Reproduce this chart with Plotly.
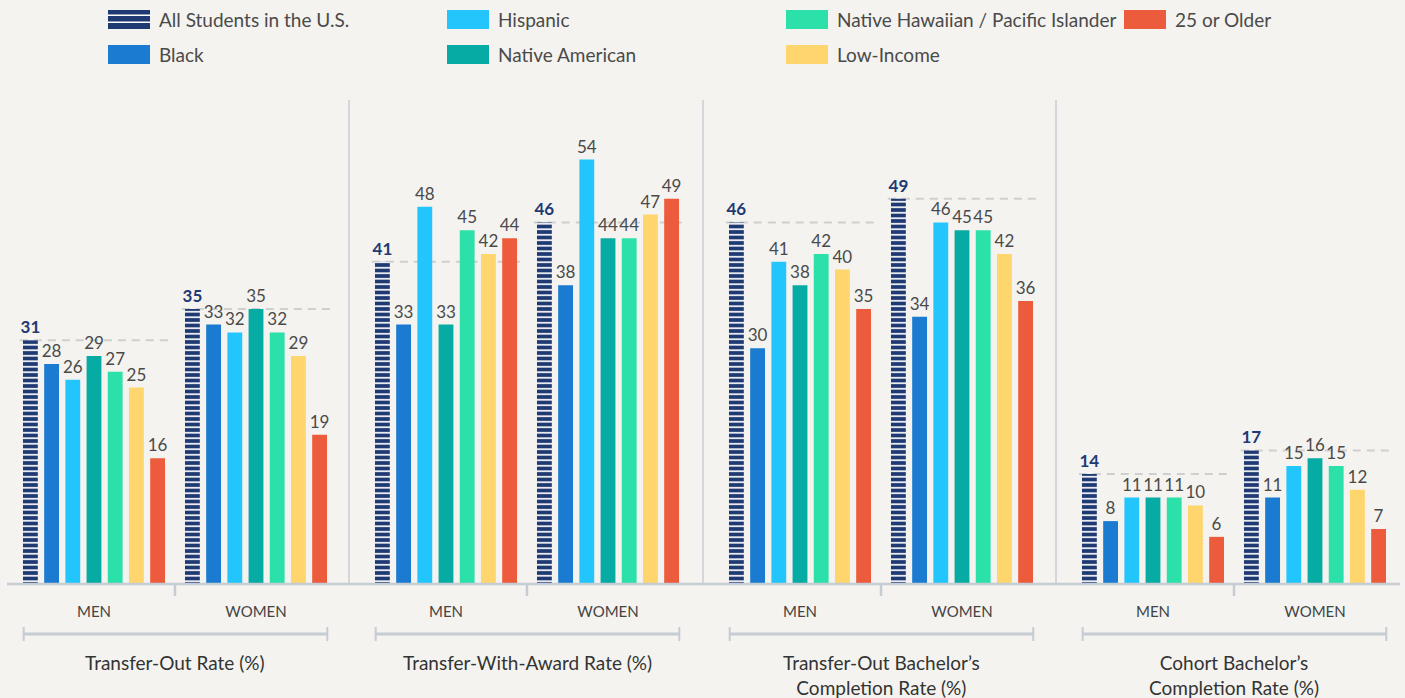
import plotly.graph_objects as go
from plotly.subplots import make_subplots

# data
groups = ["MEN", "WOMEN"]
series = ["All Students in the U.S.", "Black", "Hispanic", "Native American",
          "Native Hawaiian / Pacific Islander", "Low-Income", "25 or Older"]
colors = ["#1f3a73", "#1a7bd1", "#22c5fc", "#06aba4", "#2be1a9", "#ffd66e", "#ec5b3b"]

transfer_out_men = [31, 28, 26, 29, 27, 25, 16]
transfer_out_women = [35, 33, 32, 35, 32, 29, 19]
with_award_men = [41, 33, 48, 33, 45, 42, 44]
with_award_women = [46, 38, 54, 44, 44, 47, 49]
transfer_bach_men = [46, 30, 41, 38, 42, 40, 35]
transfer_bach_women = [49, 34, 46, 45, 45, 42, 36]
cohort_bach_men = [14, 8, 11, 11, 11, 10, 6]
cohort_bach_women = [17, 11, 15, 16, 15, 12, 7]

panel_titles = ["Transfer-Out Rate (%)", "Transfer-With-Award Rate (%)",
                "Transfer-Out Bachelor’s<br>Completion Rate (%)",
                "Cohort Bachelor’s<br>Completion Rate (%)"]
panels = [(transfer_out_men, transfer_out_women),
          (with_award_men, with_award_women),
          (transfer_bach_men, transfer_bach_women),
          (cohort_bach_men, cohort_bach_women)]

BG = "#f4f3ef"
LINE = "#c5ccd3"
TEXT = "#4a4a4a"
FONT = "Lato"

W, H = 1405, 698
TOP, BOTTOM = 100, 584
BARGAP = 0.084


def px_x(p):
    return p / W


def px_y(p):
    return (BOTTOM - p) / (BOTTOM - TOP)


fig = make_subplots(rows=1, cols=4)

for c, (men, women) in enumerate(panels):
    for s in range(len(series)):
        first = s == 0
        marker = dict(color=colors[s], line=dict(width=0))
        if first:
            marker["pattern"] = dict(shape="-", bgcolor=colors[0], fgcolor="#ffffff",
                                     size=5.5, solidity=0.3, fgopacity=1)
        fig.add_trace(go.Bar(
            x=groups, y=[men[s], women[s]], name=series[s],
            marker=marker, showlegend=False,
            text=[men[s], women[s]], textposition="outside",
            constraintext="none", cliponaxis=False,
            textfont=dict(family=FONT, size=17,
                          color=colors[0] if first else TEXT,
                          weight="bold" if first else "normal"),
            hoverinfo="skip",
        ), row=1, col=c + 1)

# panel layout (pixels)
panel_starts = [13, 365, 719, 1072]
panel_width = 324
shapes = []
annotations = []
for c, (men, women) in enumerate(panels):
    xa = "xaxis" if c == 0 else f"xaxis{c + 1}"
    ya = "yaxis" if c == 0 else f"yaxis{c + 1}"
    xref = "x" if c == 0 else f"x{c + 1}"
    yref = "y" if c == 0 else f"y{c + 1}"
    x0 = panel_starts[c]
    fig.layout[xa].update(domain=[px_x(x0), px_x(x0 + panel_width)], range=[-0.5, 1.5],
                          showgrid=False, zeroline=False, showline=False, ticks="",
                          tickfont=dict(family=FONT, size=15, color="#444444"),
                          ticklabelstandoff=17)
    fig.layout[ya].update(range=[0, (BOTTOM - TOP) / 7.86], visible=False)

    # dashed reference lines at the "All Students" value
    hw = 0.5 * (1 - BARGAP)
    for g, vals in enumerate([men, women]):
        shapes.append(dict(type="line", xref=xref, yref=yref, x0=g - hw, x1=g + hw,
                           y0=vals[0], y1=vals[0], layer="below",
                           line=dict(color="#cfcfcf", width=2, dash="8px,6px")))
    # middle tick
    shapes.append(dict(type="line", xref=xref + " domain", yref="paper", x0=0.5, x1=0.5,
                       y0=px_y(BOTTOM), y1=px_y(BOTTOM + 12), line=dict(color=LINE, width=2.5)))
    # bracket
    by = px_y(634)
    shapes.append(dict(type="line", xref=xref + " domain", yref="paper", x0=0.033, x1=0.97,
                       y0=by, y1=by, line=dict(color=LINE, width=3)))
    for bx in (0.033, 0.97):
        shapes.append(dict(type="line", xref=xref + " domain", yref="paper", x0=bx, x1=bx,
                           y0=px_y(627), y1=px_y(641), line=dict(color=LINE, width=2)))
    annotations.append(dict(xref=xref + " domain", yref="paper", x=0.5, y=px_y(649),
                            xanchor="center", yanchor="top", showarrow=False,
                            text=panel_titles[c],
                            font=dict(family=FONT, size=19, color="#333333")))

# separators and baseline
for sx in (349, 703, 1056):
    shapes.append(dict(type="line", xref="paper", yref="paper", x0=px_x(sx), x1=px_x(sx),
                       y0=0, y1=1, line=dict(color="#c9ced3", width=1.5)))
shapes.append(dict(type="line", xref="paper", yref="paper", x0=px_x(7), x1=px_x(1400),
                   y0=0, y1=0, line=dict(color=LINE, width=2.5)))

# legend (manual, column-major with two rows)
legend_cols = [108, 447, 786, 1124]
legend_rows = [10, 45]
for i, name in enumerate(series):
    lx = legend_cols[i // 2]
    ly = legend_rows[i % 2]
    shapes.append(dict(type="rect", xref="paper", yref="paper", x0=px_x(lx), x1=px_x(lx + 42),
                       y0=px_y(ly), y1=px_y(ly + 19), fillcolor=colors[i], line=dict(width=0)))
    if i == 0:
        for wy in (ly + 4.5, ly + 11.5):
            shapes.append(dict(type="rect", xref="paper", yref="paper", x0=px_x(lx),
                               x1=px_x(lx + 42), y0=px_y(wy), y1=px_y(wy + 1.5),
                               fillcolor="#ffffff", line=dict(width=0)))
    annotations.append(dict(xref="paper", yref="paper", x=px_x(lx + 49), y=px_y(ly + 9.5),
                            xanchor="left", yanchor="middle", showarrow=False, text=name,
                            font=dict(family=FONT, size=19, color=TEXT)))

fig.update_layout(
    width=W, height=H,
    margin=dict(l=0, r=0, t=TOP, b=H - BOTTOM),
    barmode="group", bargap=BARGAP, bargroupgap=0.3,
    paper_bgcolor=BG, plot_bgcolor=BG,
    showlegend=False,
    shapes=shapes, annotations=annotations,
    font=dict(family=FONT),
)

fig.write_html("out.html", config={"displayModeBar": False},
               post_script="document.body.style.margin='0';")
